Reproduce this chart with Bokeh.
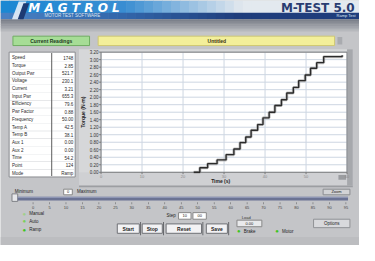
from math import pi
from bokeh.plotting import figure
from bokeh.models import Range1d
from bokeh.core.properties import value
from bokeh.embed import file_html
from bokeh.resources import INLINE

# ---------------- data ----------------
time_s = [22.6, 24.1, 26.0, 28.3, 30.5, 32.4, 33.9, 35.3, 36.6, 38.2, 39.5,
          41.0, 42.4, 44.0, 45.3, 46.9, 48.2, 49.8, 51.1, 52.6, 54.3, 58.8]
torque = [0.00, 0.12, 0.23, 0.33, 0.47, 0.62, 0.79, 0.94, 1.12, 1.27, 1.45,
          1.60, 1.78, 1.93, 2.11, 2.26, 2.44, 2.59, 2.77, 2.92, 3.08, 3.12]
y_ticks = [0.0, 0.2, 0.4, 0.6, 0.8, 1.0, 1.2, 1.4, 1.6, 1.8, 2.0, 2.2, 2.4,
           2.6, 2.8, 3.0, 3.2]
x_ticks = [0, 10, 20, 30, 40, 50, 60]
x_min, x_max = 0, 60
y_min, y_max = 0, 3.2
table_labels = ["Speed", "Torque", "Output Pwr", "Voltage", "Current", "Input Pwr",
                "Efficiency", "Pwr Factor", "Frequency", "Temp A", "Temp B",
                "Aux 1", "Aux 2", "Time", "Point", "Mode"]
table_values = ["1748", "2.85", "521.7", "230.1", "3.21", "655.3", "79.6", "0.88",
                "50.00", "42.5", "38.1", "0.00", "0.00", "54.2", "124", "Ramp"]
slider_labels = ["0", "5", "10", "15", "20", "25", "30", "35", "40", "45", "50",
                 "55", "60", "65", "70", "75", "80", "85", "90", "95"]

# ---------------- geometry (screen-like layout units 375 x 261) ----------------
W, H = 359, 245
UW, UH = 375, 261
PL, PR, PT, PB = 105, 362, 55, 183     # plot rectangle in layout units
FONT = "Liberation Sans"

kx = (x_max - x_min) / (PR - PL)
ky = (y_max - y_min) / (PB - PT)
chart_x = Range1d(x_min - PL * kx, x_max + (UW - PR) * kx)
chart_y = Range1d(y_min - (UH - PB) * ky, y_max + PT * ky)

p = figure(width=W, height=H, output_backend="svg", toolbar_location=None,
           x_range=Range1d(0, UW), y_range=Range1d(UH, 0),
           x_axis_location=None, y_axis_location=None, min_border=0)
p.title.visible = False
p.grid.visible = False
p.outline_line_color = None
p.background_fill_color = "#c4c5c8"
p.border_fill_color = "#c4c5c8"
p.extra_x_ranges = {"chart": chart_x}
p.extra_y_ranges = {"chart": chart_y}


def box(x0, y0, x1, y1, color, line=None, lw=1):
    p.quad(left=[x0], right=[x1], top=[y0], bottom=[y1], fill_color=color,
           line_color=line, line_width=lw)


def text(x, y, s, size=5, color="#222", align="left", style="normal", angle=0, font=FONT):
    p.text(x=[x], y=[y], text=[s], text_font=value(font), text_font_size=value(f"{size}px"),
           text_color=color, text_align=align, text_baseline="middle",
           text_font_style=style, angle=angle)


def mix(c1, c2, t):
    a = [int(c1[i:i + 2], 16) for i in (1, 3, 5)]
    b = [int(c2[i:i + 2], 16) for i in (1, 3, 5)]
    return "#" + "".join(f"{int(a[k] + (b[k] - a[k]) * t):02x}" for k in range(3))


# ---------------- header ----------------
n = 40
for i in range(n):
    x0, x1 = UW * i / n, UW * (i + 1) / n + 0.6
    xc = (x0 + x1) / 2
    if xc < 130:
        c = mix("#1a88d4", "#3a8ed2", xc / 130)
        c2 = mix("#4a82c4", "#3266aa", xc / 130)
    elif xc < 250:
        t = (xc - 130) / 120
        c = mix("#3a8ed2", "#dfe6ee", t)
        c2 = mix("#3266aa", "#1f3d7c", t)
    else:
        c = "#e3e9ef"
        c2 = "#1f3d7c"
    box(x0, 0, x1, 13.2, c)
    box(x0, 13, x1, 20, c2)
for i in range(6):
    box(0, 20 + i * 1.8, UW, 20 + (i + 1) * 1.8 + 0.4, mix("#7c818b", "#a9acb2", i / 5))
box(0, 31, UW, 33, "#b6b8bc")

p.patch([19, 27, 20, 12], [1, 1, 20, 20], fill_color="#e8f0f8", fill_alpha=0.9, line_color=None)
p.patch([24, 30, 24, 18], [3, 3, 20, 20], fill_color="#1d3a73", line_color=None)
text(29, 7.5, "M A G T R O L", size=12, color="white", style="bold italic", font="DejaVu Sans")
text(46, 16.5, "MOTOR   TEST   SOFTWARE", size=4.5, color="#dde6f2")
text(370, 8, "M-TEST 5.0", size=12, color="#2a3d72", align="right", style="bold",
     font="DejaVu Sans")
text(371, 16.5, "Ramp Test", size=4, color="#dde6f2", align="right")

# ---------------- title boxes ----------------
box(13, 38, 93, 48, "#a6dd96", line="#6fae62")
text(53, 43, "Current Readings", size=5, color="#1d3a1d", align="center", style="bold")
box(102, 38, 349, 48, "#f3ef9a", line="#cfc872")
text(226, 43, "Untitled", size=5, color="#3a3410", align="center", style="bold")
box(352, 39, 357, 47, "#a9abaf")

# ---------------- left table ----------------
box(9, 55, 78, 188, "white", line="#8a8c90")
rows = len(table_labels)
rh = (188 - 57) / rows
for i, (lab, val) in enumerate(zip(table_labels, table_values)):
    yc = 57 + rh * (i + 0.5)
    if i > 0:
        box(10, 57 + rh * i, 77, 57 + rh * i + 0.4, "#d0d2d6")
    text(12, yc, lab, size=4.5, color="#2a2a2a")
    text(76, yc, val, size=4.5, color="#2a2a2a", align="right")
box(53, 56, 54, 187, "#555")
text(15, 204, "Minimum", size=4.5, color="#222")
box(66, 201, 75, 207, "white", line="#888")
text(70.5, 204, "0", size=4, color="#222", align="center")
text(80, 204, "Maximum", size=4.5, color="#222")

# ---------------- plot panel ----------------
box(82, 52, 368, 197, "#d6d7d9")
box(PR, 52, 368, 197, "#a6a8ac")
box(82, PB, PR, 197, "#cfd0d3")
box(82, 197, 368, 199, "#9c9ea2")
box(353, 186, 361, 191, "#9a9ca0")
box(337, 201, 365, 207, "#d2d3d6", line="#8a8c90")
text(351, 204, "Zoom", size=4, color="#222", align="center")
box(PL, PT, PR, PB, "white")

# grid, through the chart scales
p.segment(x0=x_ticks, x1=x_ticks, y0=[y_min] * len(x_ticks), y1=[y_max] * len(x_ticks),
          line_color="#cdd6e2", line_width=1, x_range_name="chart", y_range_name="chart")
p.segment(x0=[x_min] * len(y_ticks), x1=[x_max] * len(y_ticks), y0=y_ticks, y1=y_ticks,
          line_color="#cdd6e2", line_width=1, x_range_name="chart", y_range_name="chart")
p.quad(left=[x_min], right=[x_max], bottom=[y_min], top=[y_max], fill_color=None,
       line_color="#7a7a7a", line_width=1, x_range_name="chart", y_range_name="chart")

# y tick labels / ticks (x in layout units, y in chart units)
p.segment(x0=[PL - 2] * len(y_ticks), x1=[PL] * len(y_ticks), y0=y_ticks, y1=y_ticks,
          line_color="#777", y_range_name="chart")
p.text(x=[PL - 2.5] * len(y_ticks), y=y_ticks, text=[f"{t:.2f}" for t in y_ticks],
       text_font=value(FONT), text_font_size=value("4.5px"), text_color="#333",
       text_align="right", text_baseline="middle", y_range_name="chart")
# x tick labels (y in layout units)
p.segment(x0=x_ticks, x1=x_ticks, y0=[PB] * len(x_ticks), y1=[PB + 2] * len(x_ticks),
          line_color="#777", x_range_name="chart")
p.text(x=x_ticks, y=[PB + 5] * len(x_ticks), text=[str(t) for t in x_ticks],
       text_font=value(FONT), text_font_size=value("4px"), text_color="#8a8a8a",
       text_align="center", text_baseline="middle", x_range_name="chart")
text(230, 192.5, "Time (s)", size=5, color="#222", align="center", style="bold")
text(86, 119, "Torque (N·m)", size=5, color="#222", align="center", style="bold", angle=pi / 2)

# the curve
p.step(time_s, torque, mode="after", line_color="#9a9a9a", line_width=3, line_alpha=0.6,
       x_range_name="chart", y_range_name="chart")
p.step(time_s, torque, mode="after", line_color="#2b2b2b", line_width=1.4,
       x_range_name="chart", y_range_name="chart")

# ---------------- bottom controls ----------------
box(12, 206, 18, 214, "#e6e7ea", line="#7f8186")
box(18, 209, 363, 213, "#6b7394")
box(18, 209, 363, 210, "#9aa2c0")
for i, s in enumerate(slider_labels):
    xc = 34 + i * 17.2
    box(xc - 0.3, 215, xc + 0.3, 217, "#666")
    text(xc, 220, s, size=4, color="#444", align="center")

for yy, lab, c in ((227, "Manual", "#9fd08a"), (235, "Auto", "#7bd05a"), (244, "Ramp", "#3cc41e")):
    text(25, yy, "●", size=6, color=c, align="center")
    text(30, yy, lab, size=4.5, color="#222")

text(183, 229.5, "Step", size=4.5, color="#222", align="right")
box(186, 226, 199, 233, "white", line="#888")
box(201, 226, 215, 233, "white", line="#888")
text(192.5, 229.5, "10", size=4, color="#222", align="center")
text(208, 229.5, "00", size=4, color="#222", align="center")

for x0, x1, lab in ((122, 145, "Start"), (148, 169, "Stop"), (173, 210, "Reset"), (215, 237, "Save")):
    box(x0, 238, x1, 248, "#f2f2f4", line="#6f7176")
    text((x0 + x1) / 2, 243, lab, size=5, color="#222", align="center", style="bold")
    box(x1 + 1, 236, x1 + 1.8, 250, "#4a4c50")

text(252, 231, "Load", size=4, color="#333")
box(247, 234, 273, 241, "#e9eaec", line="#888")
text(260, 237.5, "0.00", size=4, color="#222", align="center")
text(249, 246, "●", size=6, color="#3cc41e", align="center")
text(254, 246, "Brake", size=4.5, color="#222")
text(289, 246, "●", size=6, color="#3cc41e", align="center")
text(294, 246, "Motor", size=4.5, color="#222")
box(327, 233, 365, 242, "#d8d9dc", line="#909296")
text(346, 237.5, "Options", size=4.5, color="#222", align="center")
box(0, 252, UW, UH, "#bcbdc0")

open("out.html", "w").write(file_html(p, INLINE))
